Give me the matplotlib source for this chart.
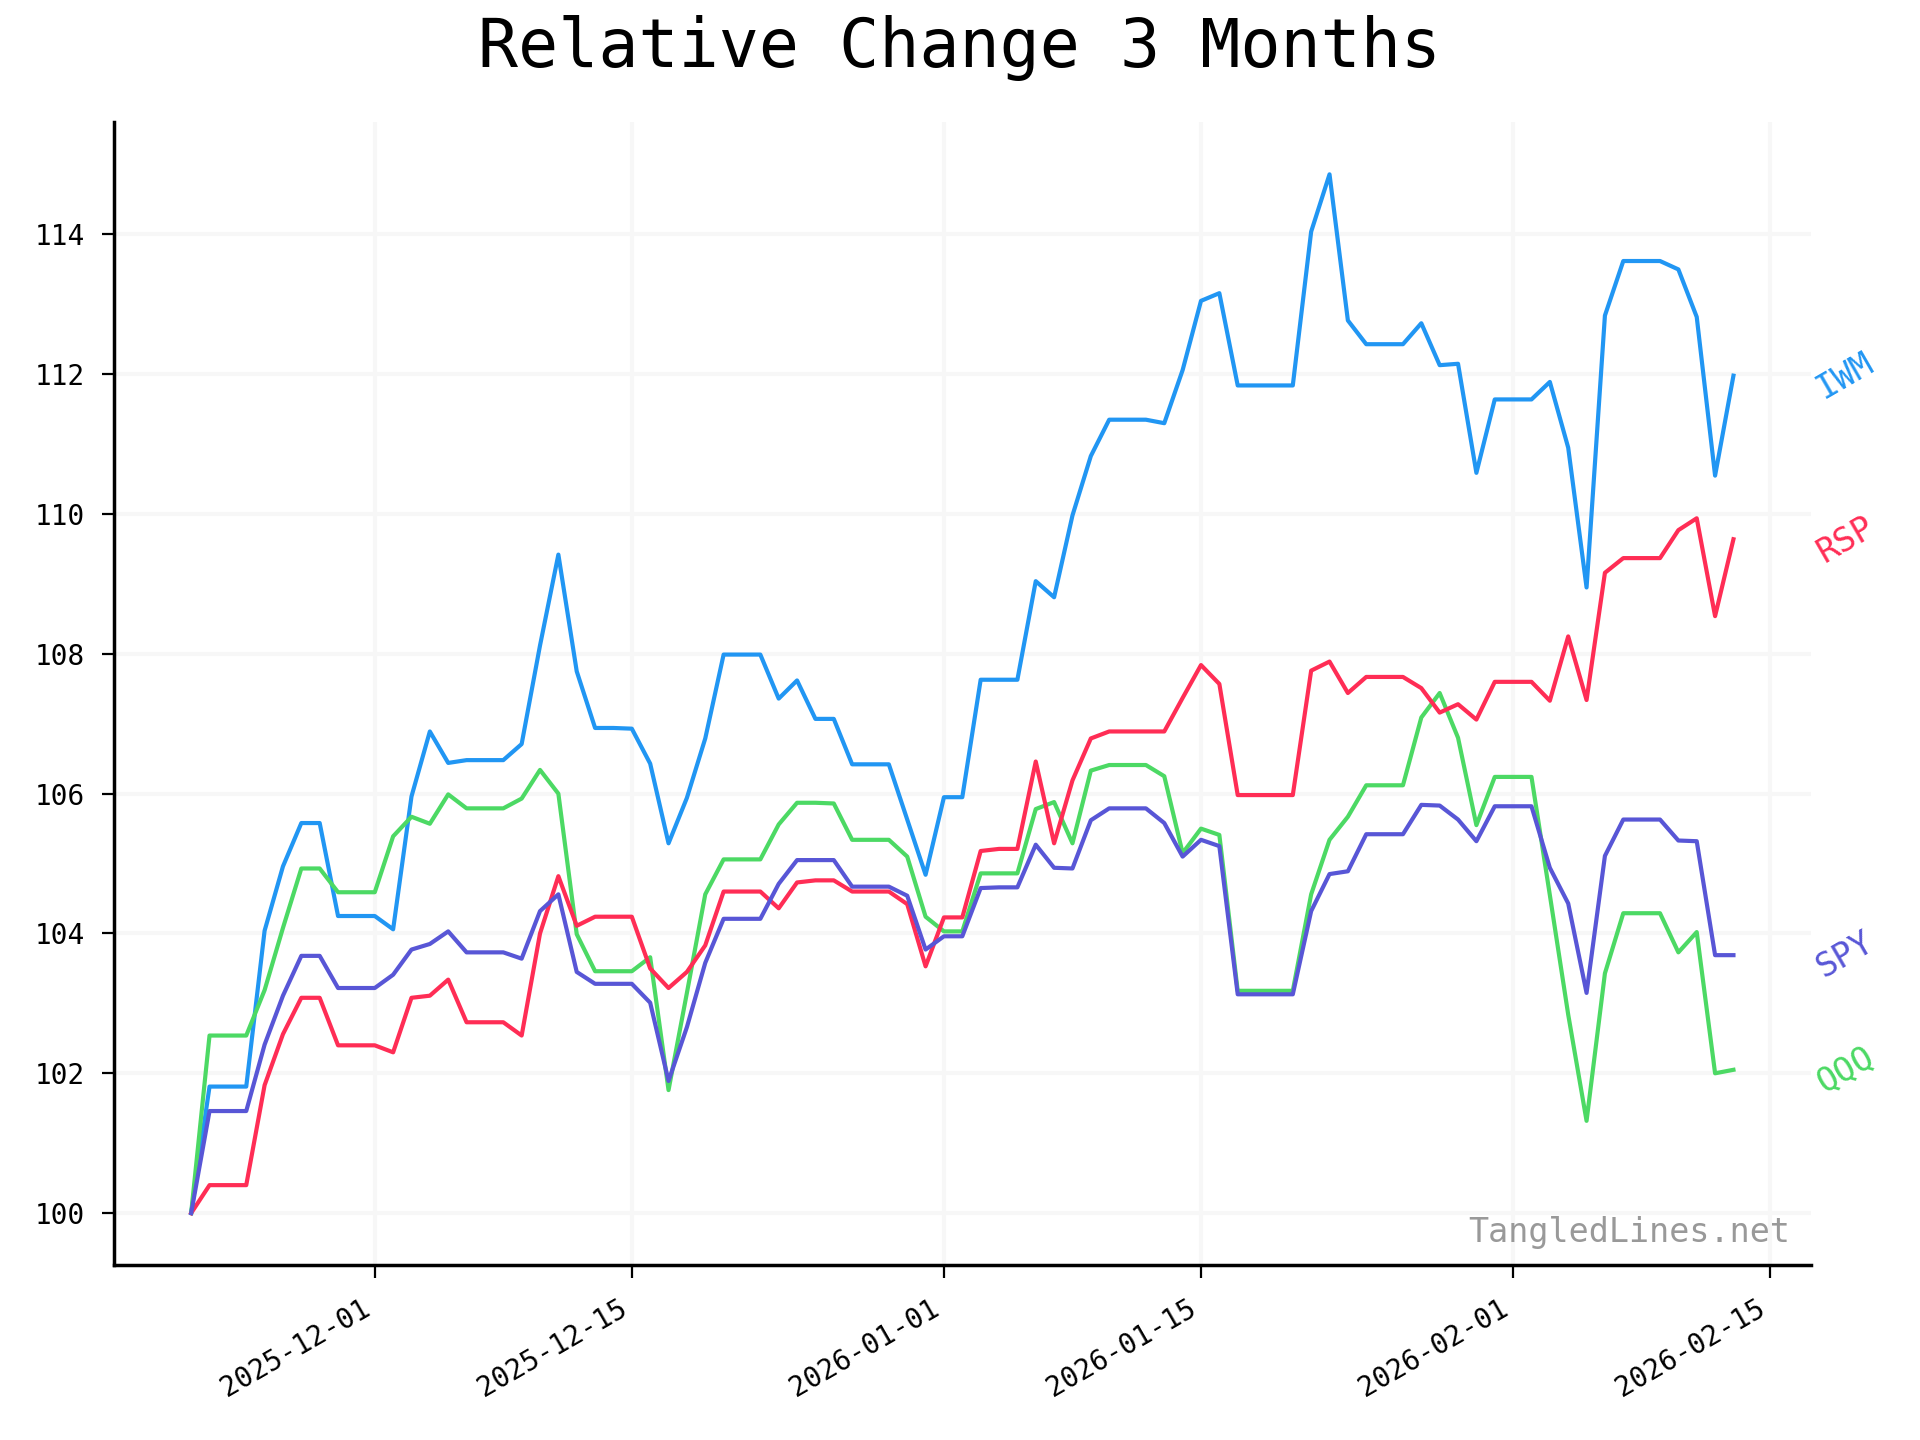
import matplotlib
matplotlib.use("Agg")
import matplotlib.pyplot as plt
import matplotlib.dates as mdates
import pandas as pd

plt.rcParams['font.family'] = ['DejaVu Sans Mono']

dates = pd.date_range("2025-11-21", "2026-02-13", freq="D")

IWM = [100.00, 101.81, 101.81, 101.81, 104.04, 104.96, 105.58, 105.58, 104.25, 104.25,
       104.25, 104.06, 105.96, 106.89, 106.44, 106.48, 106.48, 106.48, 106.71, 108.12,
       109.42, 107.75, 106.94, 106.94, 106.93, 106.43, 105.29, 105.94, 106.79, 107.99,
       107.99, 107.99, 107.36, 107.62, 107.07, 107.07, 106.42, 106.42, 106.42, 105.63,
       104.84, 105.95, 105.95, 107.63, 107.63, 107.63, 109.04, 108.81, 109.98, 110.83,
       111.35, 111.35, 111.35, 111.30, 112.06, 113.05, 113.16, 111.84, 111.84, 111.84,
       111.84, 114.04, 114.86, 112.77, 112.43, 112.43, 112.43, 112.73, 112.13, 112.15,
       110.59, 111.64, 111.64, 111.64, 111.89, 110.95, 108.95, 112.84, 113.62, 113.62,
       113.62, 113.50, 112.82, 110.55, 111.98]

QQQ = [100.00, 102.54, 102.54, 102.54, 103.19, 104.08, 104.93, 104.93, 104.59, 104.59,
       104.59, 105.39, 105.67, 105.57, 105.99, 105.79, 105.79, 105.79, 105.93, 106.34,
       106.00, 103.99, 103.46, 103.46, 103.46, 103.66, 101.76, 103.15, 104.56, 105.06,
       105.06, 105.06, 105.56, 105.87, 105.87, 105.86, 105.34, 105.34, 105.34, 105.10,
       104.24, 104.03, 104.03, 104.86, 104.86, 104.86, 105.78, 105.88, 105.29, 106.33,
       106.41, 106.41, 106.41, 106.25, 105.15, 105.50, 105.41, 103.18, 103.18, 103.18,
       103.18, 104.56, 105.34, 105.67, 106.12, 106.12, 106.12, 107.09, 107.44, 106.80,
       105.55, 106.24, 106.24, 106.24, 104.55, 102.84, 101.32, 103.43, 104.29, 104.29,
       104.29, 103.73, 104.02, 102.00, 102.05]

RSP = [100.00, 100.40, 100.40, 100.40, 101.83, 102.56, 103.08, 103.08, 102.40, 102.40,
       102.40, 102.30, 103.08, 103.11, 103.34, 102.73, 102.73, 102.73, 102.54, 104.00,
       104.82, 104.11, 104.24, 104.24, 104.24, 103.50, 103.22, 103.45, 103.83, 104.60,
       104.60, 104.60, 104.36, 104.73, 104.76, 104.76, 104.60, 104.60, 104.60, 104.42,
       103.53, 104.23, 104.23, 105.18, 105.21, 105.21, 106.46, 105.29, 106.19, 106.79,
       106.89, 106.89, 106.89, 106.89, 107.37, 107.84, 107.57, 105.98, 105.98, 105.98,
       105.98, 107.76, 107.89, 107.44, 107.67, 107.67, 107.67, 107.51, 107.16, 107.28,
       107.06, 107.60, 107.60, 107.60, 107.33, 108.25, 107.34, 109.16, 109.37, 109.37,
       109.37, 109.77, 109.94, 108.54, 109.64]

SPY = [100.00, 101.46, 101.46, 101.46, 102.41, 103.11, 103.68, 103.68, 103.22, 103.22,
       103.22, 103.41, 103.77, 103.85, 104.03, 103.73, 103.73, 103.73, 103.64, 104.32,
       104.56, 103.45, 103.28, 103.28, 103.28, 103.01, 101.89, 102.66, 103.58, 104.21,
       104.21, 104.21, 104.71, 105.05, 105.05, 105.05, 104.67, 104.67, 104.67, 104.54,
       103.77, 103.96, 103.96, 104.65, 104.66, 104.66, 105.27, 104.94, 104.93, 105.62,
       105.79, 105.79, 105.79, 105.58, 105.10, 105.34, 105.25, 103.13, 103.13, 103.13,
       103.13, 104.32, 104.85, 104.89, 105.42, 105.42, 105.42, 105.84, 105.83, 105.63,
       105.32, 105.82, 105.82, 105.82, 104.94, 104.43, 103.15, 105.11, 105.63, 105.63,
       105.63, 105.33, 105.32, 103.69, 103.69]

tickers = ["IWM", "QQQ", "RSP", "SPY"]
series = [IWM, QQQ, RSP, SPY]
colors = ["#2196F3", "#4CD964", "#FF2D55", "#5856D6"]

title = "Relative Change 3 Months"
watermark = "TangledLines.net"

fig = plt.figure(figsize=(9.6, 7.2), dpi=200)
ax = fig.add_axes([0.0594, 0.1215, 0.8836, 0.7935])

for name, vals, c in zip(tickers, series, colors):
    ax.plot(dates, vals, color=c, linewidth=1.5)
    ax.annotate(name, xy=(dates[-1], vals[-1]), xytext=(28, 0),
                textcoords="offset points", ha="left", va="center",
                rotation=30, fontsize=12, color=c, annotation_clip=False)

ax.grid(True, color="#f7f7f7", linewidth=1.5)
ax.set_axisbelow(True)

for s in ["top", "right"]:
    ax.spines[s].set_visible(False)
for s in ["left", "bottom"]:
    ax.spines[s].set_linewidth(1.25)

ax.xaxis.set_major_locator(mdates.DayLocator(bymonthday=[1, 15]))
ax.xaxis.set_major_formatter(mdates.DateFormatter("%Y-%m-%d"))
ax.tick_params(axis="both", length=4.5, width=0.8, pad=6, labelsize=10)
plt.setp(ax.get_xticklabels(), rotation=30, ha="right")

ax.text(0.988, 0.02, watermark, transform=ax.transAxes, ha="right",
        va="baseline", fontsize=12, color="#999999")

fig.text(0.5, 0.9535, title, ha="center", va="baseline", fontsize=24)

fig.savefig("out.png", dpi=200)
